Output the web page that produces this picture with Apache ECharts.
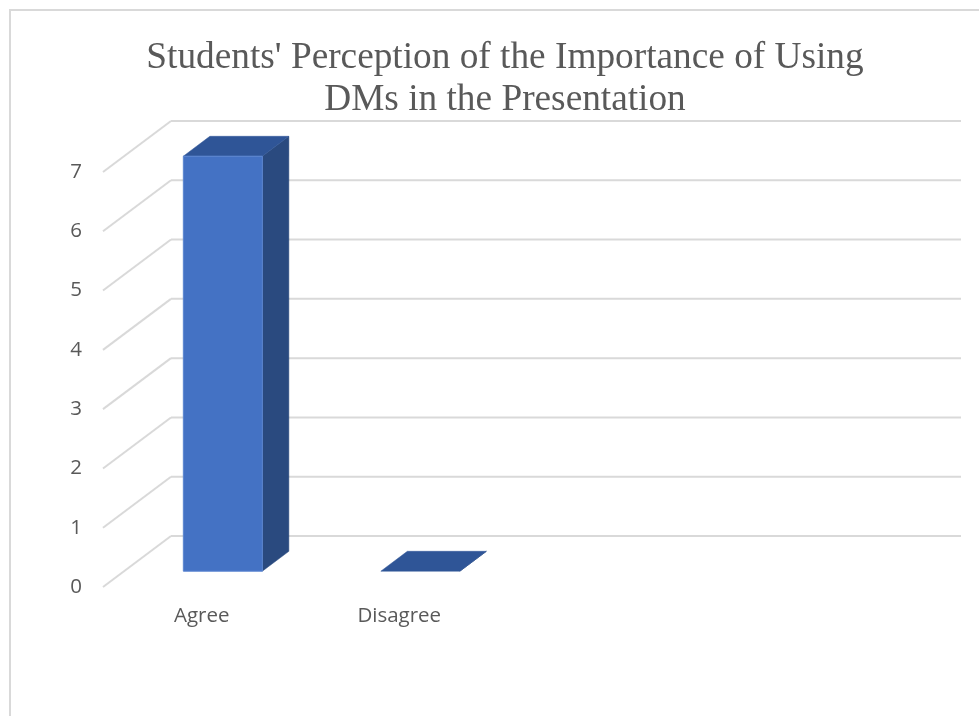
<!DOCTYPE html>
<html>
<head>
<meta charset="utf-8">
<script src="https://cdn.jsdelivr.net/npm/echarts@6/dist/echarts.min.js"></script>
<style>
html,body{margin:0;padding:0;background:#fff;}
#chart{width:979px;height:716px;}
</style>
</head>
<body>
<div id="chart"></div>
<script>
var categories = ['Agree', 'Disagree', '', ''];
var values = [7, 0, null, null];
var yTicks = [0, 1, 2, 3, 4, 5, 6, 7];
var titleText = "Students' Perception of the Importance of Using\nDMs in the Presentation";

var DX = 68, DY = -51;          // depth offset of back wall
var F0 = 0.31, F1 = 0.70;       // bar depth span (fraction of depth)
var BAR_FRAC = 0.4;             // bar width as fraction of band

var chart = echarts.init(document.getElementById('chart'));

chart.setOption({
  backgroundColor: '#ffffff',
  animation: false,
  graphic: [{
    type: 'rect',
    shape: { x: 10, y: 10, width: 975, height: 720 },
    style: { fill: 'none', stroke: '#d9d9d9', lineWidth: 2 },
    silent: true, z: -10
  }],
  title: {
    text: titleText,
    left: 500,
    top: 32,
    textAlign: 'center',
    textStyle: {
      fontFamily: 'Liberation Serif',
      fontSize: 37.3,
      fontWeight: 'normal',
      color: '#595959',
      lineHeight: 42
    }
  },
  grid: { left: 103, right: 86, top: 172, bottom: 129, containLabel: false },
  xAxis: {
    type: 'category',
    data: categories,
    boundaryGap: true,
    axisLine: { show: false },
    axisTick: { show: false },
    axisLabel: { margin: 19, fontFamily: 'Open Sans', fontSize: 20.5, color: '#595959' },
    splitLine: { show: false }
  },
  yAxis: {
    type: 'value',
    min: 0, max: 7, interval: 1,
    axisLine: { show: false },
    axisTick: { show: false },
    splitLine: { show: false },
    axisLabel: { margin: 21, fontFamily: 'Open Sans', fontSize: 20.5, color: '#595959' }
  },
  series: [
    {
      type: 'custom',
      name: 'wall',
      clip: false,
      silent: true,
      z: 1,
      data: yTicks.map(function (v) { return [0, v]; }),
      renderItem: function (params, api) {
        var cs = params.coordSys;
        var p = api.coord([0, api.value(1)]);
        var x0 = cs.x, y0 = p[1];
        var style = { stroke: '#d9d9d9', lineWidth: 2 };
        return {
          type: 'group',
          children: [
            { type: 'line', shape: { x1: x0, y1: y0, x2: x0 + DX, y2: y0 + DY }, style: style },
            { type: 'line', shape: { x1: x0 + DX, y1: y0 + DY, x2: x0 + cs.width + DX, y2: y0 + DY }, style: style }
          ]
        };
      }
    },
    {
      type: 'custom',
      name: 'Series 1',
      clip: false,
      z: 2,
      data: values.map(function (v, i) { return v == null ? null : [i, v]; }).filter(function (d) { return d; }),
      renderItem: function (params, api) {
        var idx = api.value(0);
        var val = api.value(1);
        var base = api.coord([idx, 0]);
        var top = api.coord([idx, val]);
        var band = api.size([1, 0])[0];
        var w = band * BAR_FRAC;
        var fx = DX * F0, fy = DY * F0;
        var bx = DX * F1, by = DY * F1;
        var l = base[0] - w / 2 + fx, r = base[0] + w / 2 + fx;
        var yb = base[1] + fy, yt = top[1] + fy;
        var dx = bx - fx, dy = by - fy;
        var children = [];
        children.push({ type: 'polygon', shape: { points: [[r, yb], [r + dx, yb + dy], [r + dx, yt + dy], [r, yt]] },
          style: { fill: '#2a4a7f', stroke: '#2a4a7f', lineWidth: 0.5 } });
        children.push({ type: 'polygon', shape: { points: [[l, yt], [l + dx, yt + dy], [r + dx, yt + dy], [r, yt]] },
          style: { fill: '#2f5597', stroke: '#2f5597', lineWidth: 0.5 } });
        if (yb - yt > 0.5) {
          children.push({ type: 'rect', shape: { x: l, y: yt, width: r - l, height: yb - yt },
            style: { fill: '#4472c4', stroke: '#5b86d1', lineWidth: 1 } });
        }
        return { type: 'group', children: children };
      }
    }
  ]
});
</script>
</body>
</html>
